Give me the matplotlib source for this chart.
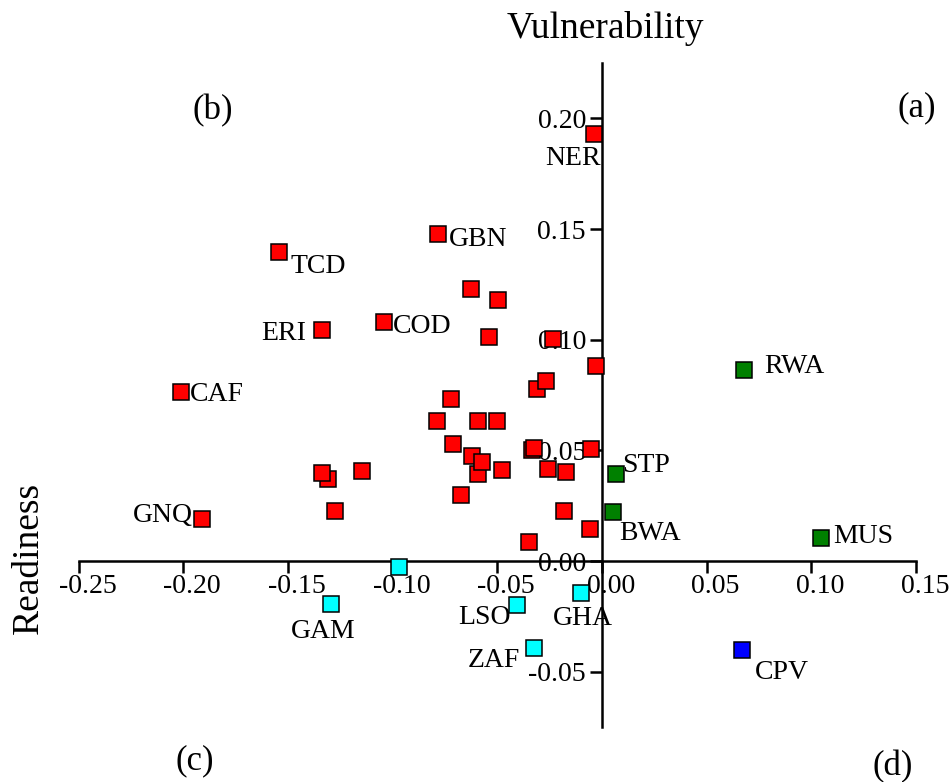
import matplotlib
matplotlib.use("Agg")
import matplotlib.pyplot as plt
import matplotlib.transforms as mtransforms

plt.rcParams["font.family"] = "serif"
plt.rcParams["font.serif"] = ["Liberation Serif", "DejaVu Serif"]
plt.rcParams["axes.unicode_minus"] = False

# red group
red_x = [-0.0038, -0.0782, -0.1541, -0.1339, -0.1043, -0.2011, -0.1910,
         -0.0627, -0.0498, -0.0541, -0.0233, -0.0030, -0.0312, -0.0266,
         -0.0720, -0.0788, -0.0594, -0.0501, -0.0713, -0.0622, -0.0591,
         -0.0573, -0.0478, -0.0333, -0.0324, -0.0051, -0.0256, -0.0174,
         -0.1309, -0.1339, -0.1145, -0.1275, -0.0673, -0.0181, -0.0059,
         -0.0347]
red_y = [0.1929, 0.1479, 0.1395, 0.1042, 0.1079, 0.0764, 0.0190,
         0.1228, 0.1179, 0.1011, 0.1003, 0.0883, 0.0779, 0.0813,
         0.0732, 0.0634, 0.0634, 0.0634, 0.0530, 0.0476, 0.0392,
         0.0449, 0.0411, 0.0502, 0.0509, 0.0505, 0.0414, 0.0404,
         0.0369, 0.0399, 0.0408, 0.0226, 0.0297, 0.0227, 0.0145,
         0.0087]
red_names = ["NER", "GBN", "TCD", "ERI", "COD", "CAF", "GNQ"] + [""] * 29

green_x = [0.0678, 0.0067, 0.0051, 0.1046]
green_y = [0.0863, 0.0393, 0.0223, 0.0104]
green_names = ["RWA", "STP", "BWA", "MUS"]

cyan_x = [-0.1293, -0.0404, -0.0099, -0.0326, -0.0968]
cyan_y = [-0.0196, -0.0200, -0.0146, -0.0395, -0.0028]
cyan_names = ["GAM", "LSO", "GHA", "ZAF", ""]

blue_x = [0.0669]
blue_y = [-0.0402]
blue_names = ["CPV"]

xticks = [-0.25, -0.20, -0.15, -0.10, -0.05, 0.00, 0.05, 0.10, 0.15]
yticks = [-0.05, 0.00, 0.05, 0.10, 0.15, 0.20]

# label offsets in pixels: (dx, dy, ha)
offsets = {
    "NER": (7, -31, "right"), "GBN": (11, -12, "left"), "TCD": (11, -21, "left"),
    "ERI": (-16, -10, "right"), "COD": (9, -11, "left"), "CAF": (9, -9, "left"),
    "GNQ": (-9, -3, "right"), "RWA": (20, -3, "left"), "STP": (6, 2, "left"),
    "BWA": (7, -28, "left"), "MUS": (12, -5, "left"), "CPV": (13, -29, "left"),
    "GAM": (-8, -34, "center"), "LSO": (-7, -19, "right"), "GHA": (2, -32, "center"),
    "ZAF": (-14, -19, "right"),
}

fig = plt.figure(figsize=(9.53, 7.82), dpi=100)
ax = fig.add_axes([0.0824, 0.0703, 0.8788, 0.8491])
ax.set_xlim(-0.25, 0.15)
ax.set_ylim(-0.075, 0.225)

groups = [
    (red_x, red_y, red_names, "#ff0000"),
    (green_x, green_y, green_names, "#008000"),
    (cyan_x, cyan_y, cyan_names, "#00ffff"),
    (blue_x, blue_y, blue_names, "#0000ff"),
]
for xs, ys, names, col in groups:
    for x, y, name in zip(xs, ys, names):
        ax.plot(x, y, marker="s", ms=12, mfc=col, mec="black", mew=1.1,
                linestyle="", zorder=3, clip_on=False)
        if name:
            dx, dy, ha = offsets[name]
            ax.annotate(name, xy=(x, y), xytext=(dx, dy), textcoords="offset pixels",
                        ha=ha, va="baseline", fontsize=20, zorder=4)

for s in ["top", "right"]:
    ax.spines[s].set_visible(False)
ax.spines["left"].set_position(("data", 0))
ax.spines["bottom"].set_position(("data", 0))
ax.spines["left"].set_linewidth(1.8)
ax.spines["bottom"].set_linewidth(1.8)

ax.set_xticks(xticks)
ax.set_xticklabels(["%.2f" % v for v in xticks])
ax.set_yticks(yticks)
ax.set_yticklabels(["%.2f" % v for v in yticks])
ax.tick_params(direction="out", length=8.5, width=1.8, labelsize=20, pad=1)
ax.tick_params(axis="y", pad=3)

shift = mtransforms.ScaledTranslation(9 / 100, 0, fig.dpi_scale_trans)
for lab in ax.get_xticklabels():
    lab.set_transform(lab.get_transform() + shift)

fig.text(605 / 953, 1 - 38 / 782, "Vulnerability", ha="center", va="baseline", fontsize=27)
fig.text(29 / 953, 1 - 558 / 782, "Readiness", ha="center", va="center",
         rotation=90, fontsize=27)
fig.text(213 / 953, 1 - 111 / 782, "(b)", ha="center", va="center", fontsize=25)
fig.text(917 / 953, 1 - 108 / 782, "(a)", ha="center", va="center", fontsize=25)
fig.text(195 / 953, 1 - 761 / 782, "(c)", ha="center", va="center", fontsize=25)
fig.text(893 / 953, 1 - 767 / 782, "(d)", ha="center", va="center", fontsize=25)

fig.savefig("out.png", dpi=100)
